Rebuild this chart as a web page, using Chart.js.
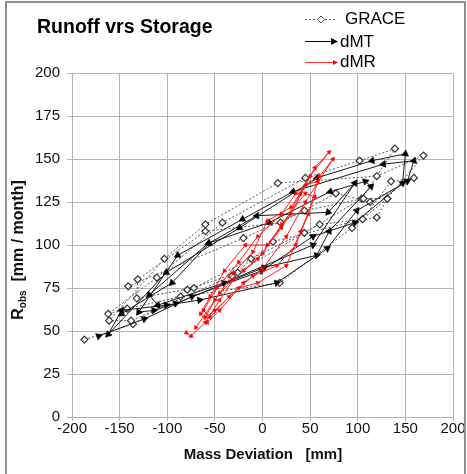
<!DOCTYPE html>
<html>
<head>
<meta charset="utf-8">
<script src="https://cdn.jsdelivr.net/npm/chart.js@4.4.1/dist/chart.umd.min.js"></script>
<style>
  html, body { margin: 0; padding: 0; background: #fff; }
  #wrap { width: 467px; height: 474px; }
</style>
</head>
<body>
<div id="wrap"><canvas id="runoffChart" width="467" height="474"></canvas></div>
<script>
// GRACE storage vs runoff (monthly, 4 years)
var graceX = [-187, -136, -79, -26, 44, 104, 139, 102, 45, -42, -111, -162,
              -142, -86, 18, 94, 131, 169, 120, 16, -60, -103, -161,
              -138, -32, 11, 105, 135, 159, 113, 77, 19, -60, -131,
              -132, -72, -12, 60, 120, 131, 106, 44, -20, -141];
var graceY = [45, 54, 74, 84, 107, 127, 156, 149, 139, 113, 81, 60,
              63, 70, 78, 110, 127, 152, 140, 136, 112, 92, 56,
              56, 82, 102, 115, 137, 139, 125, 130, 113, 108, 80,
              69, 75, 92, 112, 116, 127, 127, 120, 104, 76];

// dMT
var dmtX = [-172, -124, -74, -1, 53, 97, 147, 150, 115, 57, -24, -101, -162,
            -148, -101, -66, 15, 68, 99, 152, 159, 127, 32, -21, -89, -130,
            -114, -91, 2, 57, 70, 114, 108, 71, 7, -57, -119,
            -110, -40, 53, 97, 69, -6, -56, -95, -148];
var dmtY = [47, 57, 70, 85, 105, 113, 136, 153, 149, 139, 110, 84, 48,
            62, 65, 68, 78, 98, 120, 137, 149, 147, 131, 115, 94, 61,
            62, 66, 87, 94, 108, 134, 137, 131, 113, 101, 71,
            65, 78, 100, 136, 119, 117, 101, 78, 60];

// dMR
var dmrX = [-80, -75, -60, -45, -30, -5, 20, 40, 55, 70, 50, 30, 5, -18, -40, -55, -65,
            -58, -45, -20, 0, 25, 45, 74, 60, 35, 20, -5, -25, -48, -62,
            -55, -35, -10, 15, 35, 48, 58, 45, 30, 5, -10, -30, -50, -60,
            -50, -25, -5, 25, 40, 55, 45, 20, 0, -20, -45, -70];
var dmrY = [49, 47, 55, 68, 80, 92, 110, 130, 145, 154, 140, 118, 100, 100, 85, 70, 60,
            55, 62, 78, 86, 105, 125, 150, 140, 130, 118, 105, 90, 75, 62,
            58, 70, 82, 88, 100, 118, 137, 135, 122, 114, 96, 84, 68, 58,
            62, 75, 78, 88, 108, 128, 130, 112, 95, 85, 72, 52];

var xMin = -200, xMax = 200, xStep = 50;
var yMin = 0, yMax = 200, yStep = 25;

function pts(xs, ys) {
  return xs.map(function (x, i) { return { x: x, y: ys[i] }; });
}

// rotate the triangle so it points along the incoming segment
function arrowAngle(ctx) {
  var d = ctx.dataset.data, i = ctx.dataIndex;
  var sx = ctx.chart.scales.x, sy = ctx.chart.scales.y;
  if (!sx || !sy || !d[i]) return 0;
  var a = i > 0 ? d[i - 1] : d[i], b = i > 0 ? d[i] : d[i + 1];
  if (!a || !b) return 0;
  var dx = sx.getPixelForValue(b.x) - sx.getPixelForValue(a.x);
  var dy = sy.getPixelForValue(b.y) - sy.getPixelForValue(a.y);
  return Math.atan2(dx, -dy) * 180 / Math.PI;
}

var FONT = "'Liberation Sans', Arial, sans-serif";

var decor = {
  id: 'decor',
  afterDraw: function (chart) {
    var c = chart.ctx;
    c.save();
    // outer frame
    c.strokeStyle = '#8f8f8f';
    c.lineWidth = 2;
    c.beginPath();
    c.moveTo(6, 474); c.lineTo(6, 2); c.lineTo(465, 2); c.lineTo(465, 474);
    c.stroke();

    // title
    c.fillStyle = '#000';
    c.font = 'bold 19.5px ' + FONT;
    c.textBaseline = 'middle';
    c.textAlign = 'left';
    c.fillText('Runoff vrs Storage', 37, 28);

    // x axis title
    c.font = 'bold 15px ' + FONT;
    c.textAlign = 'center';
    c.fillStyle = '#111';
    c.fillText('Mass Deviation   [mm]', 263, 455);

    // y axis title with subscript
    c.save();
    c.translate(19, 250);
    c.rotate(-Math.PI / 2);
    c.textAlign = 'left';
    var big = 'bold 16px ' + FONT, small = 'bold 10px ' + FONT;
    var rest = '  [mm / month]';
    c.font = big; var wR = c.measureText('R').width, wRest = c.measureText(rest).width;
    c.font = small; var wS = c.measureText('obs').width;
    var x0 = -(wR + wS + wRest) / 2;
    c.font = big; c.fillText('R', x0, 0);
    c.font = small; c.fillText('obs', x0 + wR, 4);
    c.font = big; c.fillText(rest, x0 + wR + wS, 0);
    c.restore();

    // legend
    c.font = '17px ' + FONT;
    c.textAlign = 'left';
    c.fillStyle = '#000';
    // GRACE
    c.strokeStyle = '#555';
    c.lineWidth = 1;
    c.setLineDash([2, 2]);
    c.beginPath(); c.moveTo(305, 19.5); c.lineTo(335, 19.5); c.stroke();
    c.setLineDash([]);
    c.fillStyle = '#fff';
    c.beginPath();
    c.moveTo(321, 16); c.lineTo(324.5, 19.5); c.lineTo(321, 23); c.lineTo(317.5, 19.5); c.closePath();
    c.fill(); c.stroke();
    c.fillStyle = '#000';
    c.fillText('GRACE', 345, 19);
    // dMT
    c.strokeStyle = '#000';
    c.beginPath(); c.moveTo(305, 41.5); c.lineTo(333, 41.5); c.stroke();
    c.beginPath(); c.moveTo(338, 41.5); c.lineTo(331, 38); c.lineTo(331, 45); c.closePath(); c.fill();
    c.fillText('dMT', 340, 42);
    // dMR
    c.strokeStyle = '#ff3030';
    c.fillStyle = '#ff0000';
    c.beginPath(); c.moveTo(305, 62.5); c.lineTo(334, 62.5); c.stroke();
    c.beginPath(); c.moveTo(338, 62.5); c.lineTo(333, 60); c.lineTo(333, 65); c.closePath(); c.fill();
    c.fillStyle = '#000';
    c.fillText('dMR', 340, 62);
    c.restore();
  }
};

var ctx = document.getElementById('runoffChart').getContext('2d');
new Chart(ctx, {
  type: 'scatter',
  data: {
    datasets: [
      {
        label: 'dMR',
        data: pts(dmrX, dmrY),
        showLine: true,
        order: 0,
        borderColor: '#ff2020',
        borderWidth: 1,
        backgroundColor: '#ff0000',
        pointBorderColor: '#ff0000',
        pointStyle: 'triangle',
        pointRadius: 2.5,
        pointBorderWidth: 0.5,
        pointRotation: arrowAngle
      },
      {
        label: 'dMT',
        data: pts(dmtX, dmtY),
        showLine: true,
        order: 1,
        borderColor: '#1a1a1a',
        borderWidth: 1,
        backgroundColor: '#000',
        pointBorderColor: '#000',
        pointStyle: 'triangle',
        pointRadius: 4,
        pointBorderWidth: 0.5,
        pointRotation: arrowAngle
      },
      {
        label: 'GRACE',
        data: pts(graceX, graceY),
        showLine: true,
        order: 2,
        borderColor: '#555',
        borderWidth: 1,
        borderDash: [2, 2],
        backgroundColor: '#fff',
        pointBorderColor: '#333',
        pointBackgroundColor: '#fff',
        pointStyle: 'rectRot',
        pointRadius: 3.5,
        pointBorderWidth: 1.2
      }
    ]
  },
  options: {
    responsive: false,
    animation: false,
    devicePixelRatio: 1,
    layout: { padding: { left: 0, top: 73, right: 14, bottom: 0 } },
    plugins: {
      legend: { display: false },
      tooltip: { enabled: false }
    },
    scales: {
      x: {
        type: 'linear',
        min: xMin, max: xMax,
        afterFit: function (s) { s.height = 57; },
        ticks: { stepSize: xStep, padding: -1, color: '#111', font: { family: FONT, size: 15 } },
        grid: { color: '#b4b4b4', lineWidth: 1, tickLength: 4 },
        border: { color: '#b4b4b4' }
      },
      y: {
        type: 'linear',
        min: yMin, max: yMax,
        afterFit: function (s) { s.width = 72; },
        ticks: { stepSize: yStep, padding: 7, color: '#111', font: { family: FONT, size: 15 } },
        grid: { color: '#b4b4b4', lineWidth: 1, tickLength: 5 },
        border: { color: '#b4b4b4' }
      }
    }
  },
  plugins: [decor]
});
</script>
</body>
</html>
